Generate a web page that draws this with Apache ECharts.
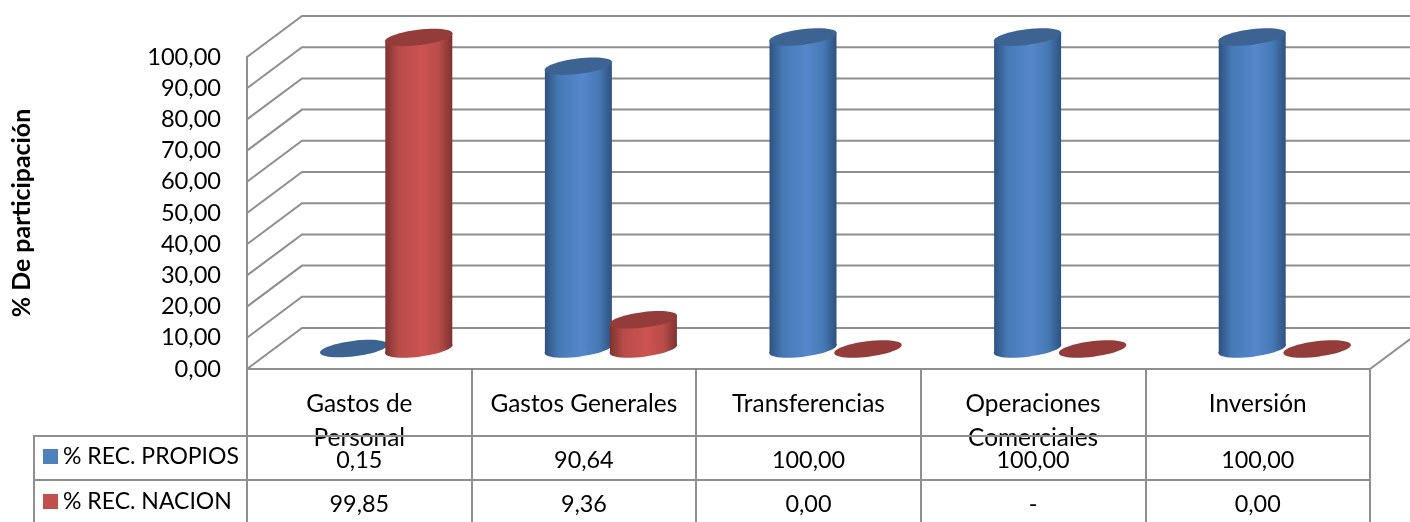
<!DOCTYPE html>
<html>
<head>
<meta charset="utf-8">
<script src="https://cdn.jsdelivr.net/npm/echarts@6/dist/echarts.min.js"></script>
<style>
  html, body { margin: 0; padding: 0; background: #fff; }
  #chart { width: 1410px; height: 522px; }
</style>
</head>
<body>
<div id="chart"></div>
<script>
const categorias = ['Gastos de\nPersonal', 'Gastos Generales', 'Transferencias', 'Operaciones\nComerciales', 'Inversión']
const recPropios = [0.15, 90.64, 100, 100, 100]
const recNacion = [99.85, 9.36, 0, 0, 0]
const tablaPropios = ['0,15', '90,64', '100,00', '100,00', '100,00']
const tablaNacion = ['99,85', '9,36', '0,00', '-', '0,00']
const ticks = [0, 10, 20, 30, 40, 50, 60, 70, 80, 90, 100]

const fuente = 'Lato'
const gris = '#8f8f8f'
// desplazamiento de la pared del fondo
const fondoX = 55
const fondoY = -41
const filas = [67, 111] // lineas de la tabla, bajo el eje

var myChart = echarts.init(document.getElementById('chart'))

function degradado(oscuro, medio, claro) {
  return new echarts.graphic.LinearGradient(0, 0, 1, 0, [
    { offset: 0, color: oscuro },
    { offset: 0.2, color: medio },
    { offset: 0.55, color: claro },
    { offset: 0.8, color: medio },
    { offset: 1, color: oscuro },
  ])
}

// cilindro inclinado, se dibuja con las coordenadas del eje
function cilindro(desvio, tapa, lado) {
  return function (params, api) {
    const base = api.coord([api.value(0), 0])
    const alto = api.coord([api.value(0), api.value(1)])
    const cx = base[0] + fondoX / 2 + desvio
    const yBase = base[1] - 20
    const yTop = alto[1] - 20
    const a = 34
    const b = 7.7
    const giro = (7 * Math.PI) / 180
    const caida = 4.1
    const hijos = []
    if (api.value(1) > 0.5) {
      hijos.push({
        type: 'ellipse',
        x: cx,
        y: yBase,
        rotation: giro,
        shape: { cx: 0, cy: 0, rx: a, ry: b },
        style: { fill: lado },
      })
      hijos.push({
        type: 'polygon',
        shape: {
          points: [
            [cx - 33.5, yTop + caida],
            [cx + 33.5, yTop - caida],
            [cx + 33.5, yBase - caida],
            [cx - 33.5, yBase + caida],
          ],
        },
        style: { fill: lado },
      })
    }
    hijos.push({
      type: 'ellipse',
      x: cx,
      y: yTop,
      rotation: giro,
      shape: { cx: 0, cy: 0, rx: a, ry: b },
      style: { fill: tapa },
    })
    return { type: 'group', children: hijos }
  }
}

var option = {
  animation: false,
  backgroundColor: '#fff',
  textStyle: { fontFamily: fuente },
  legend: {
    left: 38,
    top: 440,
    orient: 'vertical',
    itemWidth: 15,
    itemHeight: 15,
    itemGap: 22,
    icon: 'rect',
    selectedMode: false,
    data: ['% REC. PROPIOS', '% REC. NACION'],
    textStyle: { fontFamily: fuente, fontSize: 23, color: '#000' },
  },
  grid: { left: 247, top: 57, width: 1123, height: 312 },
  xAxis: {
    type: 'category',
    data: categorias,
    axisLine: { lineStyle: { color: gris, width: 2 } },
    axisTick: { show: true, length: 153, lineStyle: { color: gris, width: 2 } },
    axisLabel: {
      interval: 0,
      margin: 18,
      fontFamily: fuente,
      fontSize: 24.4,
      lineHeight: 34,
      color: '#000',
    },
  },
  yAxis: {
    type: 'value',
    min: 0,
    max: 100,
    interval: 10,
    name: '% De participación',
    nameLocation: 'middle',
    nameRotate: 90,
    nameGap: 213,
    nameTextStyle: { fontFamily: fuente, fontSize: 24.9, fontWeight: 'bold', color: '#000' },
    splitLine: { show: false },
    axisLine: { show: true, lineStyle: { color: gris, width: 2 } },
    axisTick: { show: false },
    axisLabel: {
      margin: 26,
      padding: [9, 0, 0, 0],
      fontFamily: fuente,
      fontSize: 23.6,
      color: '#000',
      formatter: (v) => v.toFixed(2).replace('.', ','),
    },
  },
  series: [
    // paredes y rejilla
    {
      type: 'custom',
      name: 'rejilla',
      silent: true,
      z: 1,
      data: ticks.map((t) => [0, t]),
      renderItem: function (params, api) {
        const y = api.coord([0, api.value(1)])[1]
        const x = params.coordSys.x
        const w = params.coordSys.width
        const hijos = [
          {
            type: 'polyline',
            shape: { points: [[x, y], [x + fondoX, y + fondoY], [x + w + fondoX, y + fondoY]] },
            style: { fill: 'none', stroke: gris, lineWidth: 2 },
          },
        ]
        if (api.value(1) === 0) {
          hijos.push({
            type: 'line',
            shape: { x1: x + w, y1: y, x2: x + w + fondoX, y2: y + fondoY },
            style: { stroke: gris, lineWidth: 2 },
          })
        }
        return { type: 'group', children: hijos }
      },
    },
    {
      type: 'custom',
      name: '% REC. PROPIOS',
      z: 3,
      itemStyle: { color: '#4f81bd' },
      data: recPropios.map((v, i) => [i, v]),
      renderItem: cilindro(-33, '#3c6392', degradado('#2f5180', '#467ab5', '#5587cb')),
    },
    {
      type: 'custom',
      name: '% REC. NACION',
      z: 3,
      itemStyle: { color: '#c0504d' },
      data: recNacion.map((v, i) => [i, v]),
      renderItem: cilindro(32, '#943c3a', degradado('#7d3331', '#b84c49', '#cd5350')),
    },
    // tabla de datos
    {
      type: 'custom',
      name: 'tabla',
      silent: true,
      z: 4,
      data: categorias.map((c, i) => [i, 0]),
      renderItem: function (params, api) {
        const i = api.value(0)
        const p = api.coord([i, 0])
        const celda = (t, dy) => ({
          type: 'text',
          x: p[0],
          y: p[1] + dy,
          style: {
            text: t,
            fontFamily: fuente,
            fontSize: 23.4,
            fill: '#000',
            align: 'center',
            verticalAlign: 'middle',
          },
        })
        const hijos = [celda(tablaPropios[i], 91), celda(tablaNacion[i], 135)]
        if (i === 0) {
          const x = params.coordSys.x
          const w = params.coordSys.width
          filas.forEach((f) => {
            hijos.push({
              type: 'line',
              shape: { x1: 33, y1: p[1] + f, x2: x + w, y2: p[1] + f },
              style: { stroke: gris, lineWidth: 2 },
            })
          })
          hijos.push({
            type: 'line',
            shape: { x1: 34, y1: p[1] + filas[0], x2: 34, y2: p[1] + 153 },
            style: { stroke: gris, lineWidth: 2 },
          })
        }
        return { type: 'group', children: hijos }
      },
    },
  ],
}

myChart.setOption(option)
</script>
</body>
</html>
